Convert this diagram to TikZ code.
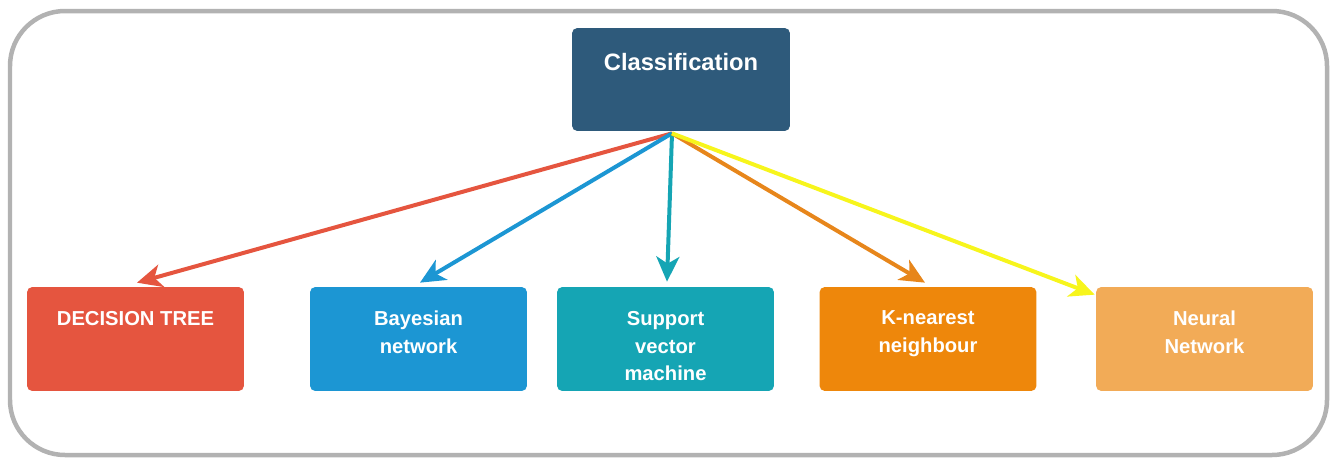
\documentclass[tikz,border=0pt]{standalone}
\usepackage{fontspec}
\setmainfont{Liberation Sans}
\usetikzlibrary{arrows.meta,calc}
\definecolor{FrameClr}{rgb}{0.70,0.70,0.70}
\definecolor{ClassClr}{HTML}{2E5A7B}
\definecolor{TreeClr}{HTML}{E5553F}
\definecolor{BayesClr}{HTML}{1C96D3}
\definecolor{SvmClr}{HTML}{15A5B4}
\definecolor{KnnClr}{HTML}{EE870B}
\definecolor{NeuralClr}{HTML}{F2AB57}
\definecolor{YellowClr}{HTML}{F7F51C}
\definecolor{OrangeLineClr}{HTML}{E7861B}

\begin{document}
\begin{tikzpicture}[x=0.02cm,y=-0.02cm,
  algobox/.style={rounded corners=3pt,inner sep=0pt,minimum width=4.34cm,minimum height=2.08cm},
  algotext/.style={anchor=north,inner sep=0pt,text=white,align=center,
    font=\fontsize{11.5}{15.9}\selectfont\bfseries},
  link/.style={line width=0.08cm,-{Stealth[length=0.5cm,width=0.46cm,inset=0.14cm]}}]
\useasboundingbox (0,0) rectangle (1336,460);
\draw[FrameClr,line width=0.09cm,rounded corners=1.1cm] (10,11) rectangle (1327,455);

\node[algobox,fill=ClassClr,minimum width=4.36cm,minimum height=2.06cm] (cls) at (681,79.5) {};
\node[algotext,font=\fontsize{13.5}{16}\selectfont\bfseries] (clsT) at ([yshift=-0.5cm]cls.north) {Classification};

\node[algobox,fill=TreeClr] (tree) at (135.5,339) {};
\node[algobox,fill=BayesClr] (bayes) at (418.5,339) {};
\node[algobox,fill=SvmClr] (svm) at (665.5,339) {};
\node[algobox,fill=KnnClr] (knn) at (928,339) {};
\node[algobox,fill=NeuralClr] (neural) at (1204.5,339) {};

\node[algotext] (treeT) at ([yshift=-0.48cm]tree.north) {DECISION TREE};
\node[algotext] (bayesT) at ([yshift=-0.48cm]bayes.north) {Bayesian\\network};
\node[algotext] (svmT) at ([yshift=-0.48cm]svm.north) {Support\\vector\\machine};
\node[algotext] (knnT) at ([yshift=-0.48cm]knn.north) {K-nearest\\neighbour};
\node[algotext] (neuralT) at ([yshift=-0.48cm]neural.north) {Neural\\Network};

\coordinate (src) at ([xshift=-0.18cm,yshift=-0.04cm]cls.south);

\draw[link,TreeClr] (src) -- ([shift={(0.03cm,0.08cm)}]tree.north);
\draw[link,BayesClr] (src) -- ([shift={(0.03cm,0.08cm)}]bayes.north);
\draw[link,SvmClr] (src) -- ([shift={(0.03cm,0.1cm)}]svm.north);
\draw[link,OrangeLineClr] (src) -- ([shift={(-0.06cm,0.08cm)}]knn.north);
\draw[link,YellowClr] (src) -- ([shift={(-0.02cm,-0.16cm)}]neural.north west);
\end{tikzpicture}
\end{document}
